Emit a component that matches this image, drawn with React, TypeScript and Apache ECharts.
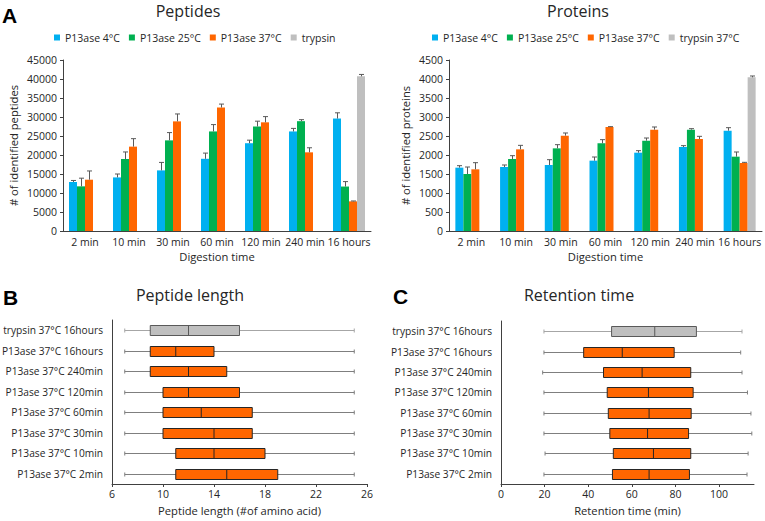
import React, { useEffect, useRef } from 'react';
import * as echarts from 'echarts';

// ---- Panel A: identified peptides / proteins per digestion time ----
const digestionTimes = ['2 min', '10 min', '30 min', '60 min', '120 min', '240 min', '16 hours'];

const peptideSeriesNames = ['P13ase 4°C', 'P13ase 25°C', 'P13ase 37°C', 'trypsin'];
const peptides4C = [12900, 14100, 15950, 19000, 23100, 26200, 29600];
const peptides4CSd = [400, 900, 2100, 1500, 800, 800, 1500];
const peptides25C = [11750, 18950, 23850, 26200, 27500, 28900, 11700];
const peptides25CSd = [2150, 1850, 2050, 1800, 1400, 400, 1300];
const peptides37C = [13500, 22200, 28850, 32500, 28600, 20700, 7800];
const peptides37CSd = [2300, 2100, 1950, 900, 1500, 1200, 100];
const peptidesTrypsin = [null, null, null, null, null, null, 40700];
const peptidesTrypsinSd = [null, null, null, null, null, null, 500];

const proteinSeriesNames = ['P13ase 4°C', 'P13ase 25°C', 'P13ase 37°C', 'trypsin 37°C'];
const proteins4C = [1667, 1684, 1737, 1851, 2061, 2211, 2640];
const proteins4CSd = [52, 53, 140, 96, 53, 35, 79];
const proteins25C = [1500, 1895, 2175, 2307, 2377, 2667, 1956];
const proteins25CSd = [184, 87, 97, 97, 70, 26, 123];
const proteins37C = [1623, 2149, 2509, 2737, 2667, 2421, 1789];
const proteins37CSd = [175, 105, 70, 9, 70, 70, 18];
const proteinsTrypsin = [null, null, null, null, null, null, 4044];
const proteinsTrypsinSd = [null, null, null, null, null, null, 35];

// ---- Panels B and C: distributions (min, Q1, median, Q3, max) ----
const sampleRows = [
  'trypsin 37°C 16hours',
  'P13ase 37°C 16hours',
  'P13ase 37°C 240min',
  'P13ase 37°C 120min',
  'P13ase 37°C 60min',
  'P13ase 37°C 30min',
  'P13ase 37°C 10min',
  'P13ase 37°C 2min',
];
const peptideLengthStats = [
  [7, 9, 12, 16, 25],
  [7, 9, 11, 14, 25],
  [7, 9, 12, 15, 25],
  [7, 10, 12, 16, 25],
  [7, 10, 13, 17, 25],
  [7, 10, 14, 17, 25],
  [7, 11, 14, 18, 25],
  [7, 11, 15, 19, 25],
];
const retentionStats = [
  [19.7, 50.7, 70.5, 89.6, 110.5],
  [19.7, 37.9, 55.6, 79.4, 109.9],
  [19.1, 47.0, 64.7, 87.0, 110.5],
  [19.7, 48.7, 67.6, 88.1, 113.0],
  [19.7, 49.2, 67.9, 87.2, 114.6],
  [19.7, 49.9, 67.2, 86.0, 115.0],
  [20.2, 51.5, 69.9, 87.0, 113.3],
  [19.7, 51.1, 67.9, 86.4, 112.8],
];
const lengthTicks = [6, 10, 14, 18, 22, 26];
const retentionTicks = [0, 20, 40, 60, 80, 100];

const FONT = '"Open Sans", "DejaVu Sans", sans-serif';
const TEXT = '#262626';
const AXIS = '#404040';
const COLORS = ['#00B0F0', '#00B050', '#FF6600', '#BFBFBF'];
const BAR_W = 8;

const barErrorItem = (params: any, api: any) => {
  const cat = api.value(0);
  const s = api.value(1);
  const v = api.value(2);
  const sd = api.value(3);
  const base = api.coord([cat, v]);
  const top = api.coord([cat, v + sd]);
  const x = Math.round(base[0] + (s - 1.5) * BAR_W) + 0.5;
  const style = { stroke: '#595959', lineWidth: 1 };
  return {
    type: 'group',
    children: [
      { type: 'line', shape: { x1: x, y1: base[1], x2: x, y2: top[1] }, style },
      { type: 'line', shape: { x1: x - 2.5, y1: top[1], x2: x + 2.5, y2: top[1] }, style },
    ],
  };
};

const boxItem = (params: any, api: any) => {
  const row = api.value(0);
  const lo = api.coord([api.value(1), row]);
  const q1 = api.coord([api.value(2), row]);
  const med = api.coord([api.value(3), row]);
  const q3 = api.coord([api.value(4), row]);
  const hi = api.coord([api.value(5), row]);
  const cy = Math.round(lo[1]) + 0.5;
  const h = 10;
  const isTrypsin = sampleRows[params.dataIndex].startsWith('trypsin');
  const fill = isTrypsin ? '#BFBFBF' : '#FF6600';
  const whisker = isTrypsin ? '#A6A6A6' : '#7F7F7F';
  const border = isTrypsin ? '#595959' : '#262626';
  return {
    type: 'group',
    children: [
      { type: 'line', shape: { x1: lo[0], y1: cy, x2: hi[0], y2: cy }, style: { stroke: whisker, lineWidth: 1 } },
      { type: 'line', shape: { x1: lo[0], y1: cy - 2, x2: lo[0], y2: cy + 2 }, style: { stroke: whisker, lineWidth: 1 } },
      { type: 'line', shape: { x1: hi[0], y1: cy - 2, x2: hi[0], y2: cy + 2 }, style: { stroke: whisker, lineWidth: 1 } },
      {
        type: 'rect',
        shape: { x: q1[0], y: cy - h / 2, width: q3[0] - q1[0], height: h },
        style: { fill, stroke: border, lineWidth: 1 },
      },
      { type: 'line', shape: { x1: med[0], y1: cy - h / 2, x2: med[0], y2: cy + h / 2 }, style: { stroke: border, lineWidth: 1 } },
    ],
  };
};

const errorData = (sets: (number | null)[][][]) => {
  const out: number[][] = [];
  sets.forEach(([vals, sds], s) => {
    vals.forEach((v, i) => {
      if (v != null && sds[i] != null) out.push([i, s, v, sds[i] as number]);
    });
  });
  return out;
};

const smallText = { fontFamily: FONT, fontSize: 10.5, color: TEXT };
const rowText = { fontFamily: FONT, fontSize: 10.2, color: TEXT };
const nameText = { fontFamily: FONT, fontSize: 11.2, color: TEXT };

const barXAxis = (gridIndex: number) => ({
  type: 'category',
  gridIndex,
  data: digestionTimes,
  name: 'Digestion time',
  nameLocation: 'middle',
  nameGap: 20,
  nameTextStyle: nameText,
  axisLine: { lineStyle: { color: AXIS, width: 1 } },
  axisTick: { length: 3, lineStyle: { color: AXIS } },
  axisLabel: { ...smallText, interval: 0, margin: 5 },
});

const barYAxis = (gridIndex: number, max: number, interval: number, name: string, nameGap: number) => ({
  type: 'value',
  gridIndex,
  min: 0,
  max,
  interval,
  name,
  nameLocation: 'middle',
  nameGap,
  nameTextStyle: nameText,
  axisLine: { show: true, lineStyle: { color: AXIS, width: 1 } },
  axisTick: { show: true, length: 3, lineStyle: { color: AXIS } },
  axisLabel: { ...smallText, margin: 6, formatter: (v: number) => String(v) },
  splitLine: { show: false },
});

const barSeries = (names: string[], values: (number | null)[][], xAxisIndex: number) =>
  names.map((name, s) => ({
    type: 'bar',
    name,
    xAxisIndex,
    yAxisIndex: xAxisIndex,
    barWidth: BAR_W,
    barGap: '0%',
    data: values[s].map((v) => (v == null ? '-' : v)),
    itemStyle: { color: COLORS[s] },
  }));

const boxYAxis = (gridIndex: number) => ({
  type: 'category',
  gridIndex,
  data: sampleRows,
  inverse: true,
  axisLine: { lineStyle: { color: AXIS, width: 1 } },
  axisTick: { length: 3, lineStyle: { color: AXIS } },
  axisLabel: { ...rowText, margin: 9 },
});

const legendBase = {
  top: 32,
  padding: 0,
  itemWidth: 6,
  itemHeight: 6,
  itemGap: 9,
  icon: 'rect',
  textStyle: smallText,
  selectedMode: false,
};

const option: any = {
  animation: false,
  backgroundColor: '#fff',
  textStyle: { fontFamily: FONT },
  grid: [
    { left: 63, top: 60, width: 308, height: 171, outerBoundsMode: 'none', containLabel: false },
    { left: 449, top: 60, width: 313, height: 171, outerBoundsMode: 'none', containLabel: false },
    { left: 112, top: 320, width: 255, height: 164, outerBoundsMode: 'none', containLabel: false },
    { left: 501, top: 321, width: 253, height: 163, outerBoundsMode: 'none', containLabel: false },
  ],
  legend: [
    { ...legendBase, left: 54, data: peptideSeriesNames },
    { ...legendBase, left: 432, data: proteinSeriesNames },
  ],
  xAxis: [
    barXAxis(0),
    barXAxis(1),
    {
      type: 'value',
      gridIndex: 2,
      min: lengthTicks[0],
      max: lengthTicks[lengthTicks.length - 1],
      interval: lengthTicks[1] - lengthTicks[0],
      name: 'Peptide length (#of amino acid)',
      nameLocation: 'middle',
      nameGap: 21,
      nameTextStyle: nameText,
      axisLine: { show: true, lineStyle: { color: AXIS, width: 1 } },
      axisTick: { show: true, length: 3, lineStyle: { color: AXIS } },
      axisLabel: { ...smallText, margin: 4 },
      splitLine: { show: false },
    },
    {
      type: 'value',
      gridIndex: 3,
      min: retentionTicks[0],
      max: 116,
      interval: retentionTicks[1] - retentionTicks[0],
      name: 'Retention time (min)',
      nameLocation: 'middle',
      nameGap: 21,
      nameTextStyle: nameText,
      axisLine: { show: true, lineStyle: { color: AXIS, width: 1 } },
      axisTick: { show: true, length: 3, lineStyle: { color: AXIS }, customValues: retentionTicks },
      axisLabel: {
        ...smallText,
        margin: 4,
        showMaxLabel: false,
        formatter: (v: number) => (retentionTicks.includes(v) ? String(v) : ''),
      },
      splitLine: { show: false },
    },
  ],
  yAxis: [
    barYAxis(0, 45000, 5000, '# of identified peptides', 44),
    barYAxis(1, 4500, 500, '# of identified proteins', 38),
    boxYAxis(2),
    boxYAxis(3),
  ],
  series: [
    ...barSeries(peptideSeriesNames, [peptides4C, peptides25C, peptides37C, peptidesTrypsin], 0),
    {
      type: 'custom',
      name: 'peptides SD',
      xAxisIndex: 0,
      yAxisIndex: 0,
      z: 3,
      encode: { x: 0, y: 2 },
      renderItem: barErrorItem,
      data: errorData([
        [peptides4C, peptides4CSd],
        [peptides25C, peptides25CSd],
        [peptides37C, peptides37CSd],
        [peptidesTrypsin, peptidesTrypsinSd],
      ]),
    },
    ...barSeries(proteinSeriesNames, [proteins4C, proteins25C, proteins37C, proteinsTrypsin], 1),
    {
      type: 'custom',
      name: 'proteins SD',
      xAxisIndex: 1,
      yAxisIndex: 1,
      z: 3,
      encode: { x: 0, y: 2 },
      renderItem: barErrorItem,
      data: errorData([
        [proteins4C, proteins4CSd],
        [proteins25C, proteins25CSd],
        [proteins37C, proteins37CSd],
        [proteinsTrypsin, proteinsTrypsinSd],
      ]),
    },
    {
      type: 'custom',
      name: 'Peptide length',
      xAxisIndex: 2,
      yAxisIndex: 2,
      encode: { y: 0, x: [1, 2, 3, 4, 5] },
      renderItem: boxItem,
      data: peptideLengthStats.map((st, i) => [i, ...st]),
    },
    {
      type: 'custom',
      name: 'Retention time',
      xAxisIndex: 3,
      yAxisIndex: 3,
      encode: { y: 0, x: [1, 2, 3, 4, 5] },
      renderItem: boxItem,
      data: retentionStats.map((st, i) => [i, ...st]),
    },
  ],
  graphic: [
    { type: 'text', x: 2, y: 15, style: { text: 'A', font: 'bold 21px "Liberation Sans", Arial, sans-serif', fill: '#000', textVerticalAlign: 'middle' } },
    { type: 'text', x: 3, y: 297, style: { text: 'B', font: 'bold 21px "Liberation Sans", Arial, sans-serif', fill: '#000', textVerticalAlign: 'middle' } },
    { type: 'text', x: 393, y: 296, style: { text: 'C', font: 'bold 21px "Liberation Sans", Arial, sans-serif', fill: '#000', textVerticalAlign: 'middle' } },
    { type: 'text', x: 188, y: 11, style: { text: 'Peptides', font: `16px ${FONT}`, fill: TEXT, textAlign: 'center', textVerticalAlign: 'middle' } },
    { type: 'text', x: 578, y: 11, style: { text: 'Proteins', font: `16px ${FONT}`, fill: TEXT, textAlign: 'center', textVerticalAlign: 'middle' } },
    { type: 'text', x: 190, y: 295, style: { text: 'Peptide length', font: `16px ${FONT}`, fill: TEXT, textAlign: 'center', textVerticalAlign: 'middle' } },
    { type: 'text', x: 579, y: 295, style: { text: 'Retention time', font: `16px ${FONT}`, fill: TEXT, textAlign: 'center', textVerticalAlign: 'middle' } },
  ],
};

export default function App() {
  const ref = useRef<HTMLDivElement>(null);
  useEffect(() => {
    if (!ref.current) return;
    const chart = echarts.init(ref.current, null, { renderer: 'svg' });
    chart.setOption(option);
    return () => chart.dispose();
  }, []);
  return (
    <div
      ref={ref}
      style={{ position: 'fixed', left: 0, top: 0, width: 765, height: 521, background: '#fff' }}
    />
  );
}
